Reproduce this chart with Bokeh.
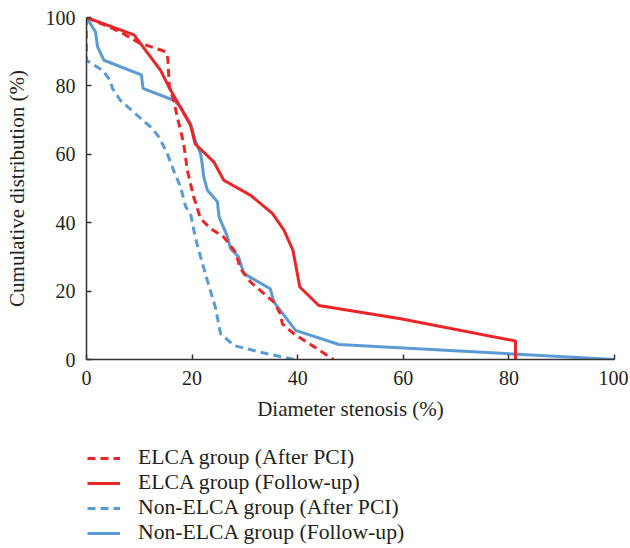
from bokeh.plotting import figure
from bokeh.models import Legend, LegendItem, Range1d, FixedTicker
from bokeh.layouts import column
from bokeh.embed import file_html
from bokeh.resources import INLINE

# ---- data ----
elca_after_x = [0, 6.4, 9.9, 15.0, 15.4, 15.7, 16.5, 17.2, 18.4, 19.1, 20.3, 21.6, 23.5, 26.0, 28.2, 29.2, 31.1, 35.5, 36.7, 37.1, 39.3, 46.8]
elca_after_y = [100, 95.8, 92.6, 90.0, 88.0, 79.7, 75.8, 70.9, 63.2, 55.3, 47.5, 41.2, 38.3, 35.8, 31.4, 26.5, 22.6, 16.8, 13.4, 10.4, 7.5, 0]

elca_follow_x = [0, 9.0, 14.0, 15.6, 19.7, 20.6, 24.1, 26.0, 31.1, 35.2, 37.4, 39.1, 40.4, 44.0, 59.5, 81.25, 81.25]
elca_follow_y = [100, 94.9, 84.6, 79.7, 68.5, 63.0, 57.8, 52.4, 48.0, 42.7, 37.8, 31.9, 21.2, 15.8, 11.9, 5.4, 0]

non_after_x = [0, 0, 3.0, 4.5, 4.9, 6.4, 9.9, 12.4, 13.7, 15.3, 16.5, 17.8, 18.8, 19.7, 20.6, 21.6, 22.9, 24.4, 25.4, 27.9, 33.0, 39.3]
non_after_y = [100, 87.5, 84.6, 81.7, 79.3, 75.8, 71.0, 67.6, 65.1, 60.2, 55.3, 50.5, 44.6, 42.7, 35.8, 30.0, 23.1, 15.3, 7.5, 4.1, 2.1, 0]

non_follow_x = [0, 1.7, 2.1, 3.3, 10.4, 10.7, 16.5, 17.8, 19.7, 20.6, 21.6, 21.9, 22.2, 22.9, 24.8, 25.1, 26.6, 27.3, 28.8, 29.8, 34.8, 35.5, 39.6, 47.8, 100]
non_follow_y = [100, 95.8, 91.4, 87.5, 83.2, 79.3, 75.8, 73.9, 69.0, 64.1, 60.2, 57.3, 53.4, 49.5, 46.1, 41.7, 36.3, 32.4, 30.0, 25.1, 20.7, 16.8, 8.5, 4.4, 0]

x_ticks = [0, 20, 40, 60, 80, 100]
y_ticks = [0, 20, 40, 60, 80, 100]

labels = ["ELCA group (After PCI)", "ELCA group (Follow-up)",
          "Non-ELCA group (After PCI)", "Non-ELCA group (Follow-up)"]

RED = "#ed2528"
BLUE = "#5b9bd5"
FONT = "Liberation Serif"
TXT = "#231f20"

p = figure(frame_width=528, frame_height=342,
           x_range=Range1d(0, 100), y_range=Range1d(0, 100),
           output_backend="svg", toolbar_location=None,
           min_border_left=86, min_border_top=17, min_border_right=14, min_border_bottom=80,
           outline_line_color=None, background_fill_color="white")
p.grid.visible = False

r_na = p.line(non_after_x, non_after_y, line_color=BLUE, line_width=3, line_dash="8 5")
r_nf = p.line(non_follow_x, non_follow_y, line_color=BLUE, line_width=3)
r_ea = p.line(elca_after_x, elca_after_y, line_color=RED, line_width=3, line_dash="8 5")
r_ef = p.line(elca_follow_x, elca_follow_y, line_color=RED, line_width=3)

for ax, tk in ((p.xaxis[0], x_ticks), (p.yaxis[0], y_ticks)):
    ax.ticker = FixedTicker(ticks=tk)
    ax.minor_tick_line_color = None
    ax.major_tick_in = 5
    ax.major_tick_out = 0
    ax.axis_line_color = "#333333"
    ax.axis_line_width = 1.5
    ax.major_tick_line_color = "#333333"
    ax.major_tick_line_width = 1.5
    ax.major_label_text_font = FONT
    ax.major_label_text_font_size = "20px"
    ax.major_label_text_color = TXT
    ax.axis_label_text_font = FONT
    ax.axis_label_text_font_size = "21px"
    ax.axis_label_text_font_style = "normal"
    ax.axis_label_text_color = TXT

p.xaxis.axis_label = "Diameter stenosis (%)"
p.yaxis.axis_label = "Cumulative distribution (%)"
p.xaxis.major_label_standoff = 11
p.xaxis.axis_label_standoff = 9
p.yaxis.major_label_standoff = 11
p.yaxis.axis_label_standoff = 14

# ---- legend panel below the chart ----
lf = figure(width=628, height=108, x_range=Range1d(0, 1), y_range=Range1d(0, 1),
            output_backend="svg", toolbar_location=None,
            min_border_left=86, min_border_right=0, min_border_top=0, min_border_bottom=0,
            outline_line_color=None, background_fill_color="white")
lf.axis.visible = False
lf.grid.visible = False
styles = [(RED, "8 5"), (RED, "solid"), (BLUE, "8 5"), (BLUE, "solid")]
nan = float("nan")
items = []
for lab, (col, dash) in zip(labels, styles):
    r = lf.line(x=[nan], y=[nan], line_color=col, line_width=3, line_dash=dash)
    items.append(LegendItem(label=lab, renderers=[r]))

legend = Legend(items=items, location=(1, 2), orientation="vertical",
                glyph_width=33, glyph_height=22, label_standoff=18,
                label_height=22, spacing=0, padding=0, margin=0,
                border_line_color=None, background_fill_alpha=0,
                label_text_font=FONT, label_text_font_size="21.7px",
                label_text_color=TXT)
lf.add_layout(legend, "center")

layout = column(p, lf, spacing=0)
open("out.html", "w").write(file_html(layout, INLINE))
